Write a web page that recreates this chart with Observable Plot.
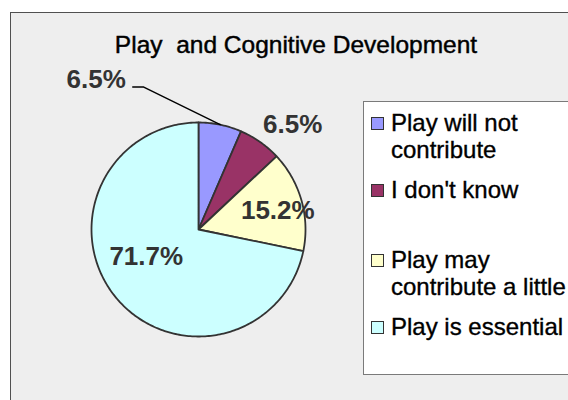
<!DOCTYPE html>
<html>
<head>
<meta charset="utf-8">
<script src="https://cdn.jsdelivr.net/npm/d3@7"></script>
<script src="https://cdn.jsdelivr.net/npm/@observablehq/plot@0.6"></script>
<style>
  html, body { margin: 0; padding: 0; background: #ffffff; }
  #wrap { position: relative; width: 568px; height: 400px; overflow: hidden; background: #ffffff;
          font-family: "Liberation Sans", Arial, Helvetica, sans-serif; }
  #panel { position: absolute; left: 10px; top: 12px; width: 620px; height: 420px;
           background: #eeeeee; border-left: 1.5px solid #505050; border-top: 1.5px solid #505050; }
  #title { position: absolute; left: 0; width: 592px; top: 33px; text-align: center;
           font-size: 24.5px; line-height: 24.5px; color: #000; white-space: pre;
           -webkit-text-stroke: 0.45px #000; }
  #legend { position: absolute; left: 363px; top: 101px; width: 240px; height: 272px;
            background: #ffffff; border: 1px solid #7a7a7a; }
  .sw { position: absolute; width: 13px; height: 13px; box-sizing: border-box; border: 1.5px solid #333; }
  .lt { position: absolute; font-size: 24px; line-height: 27px; color: #000; white-space: pre;
        -webkit-text-stroke: 0.35px #000; }
  #chart svg { position: absolute; left: 0; top: 0; overflow: visible; }
</style>
</head>
<body>
<div id="wrap">
  <div id="panel"></div>
  <div id="title"></div>
  <div id="legend"></div>
  <div id="legendItems"></div>
  <div id="chart"></div>
</div>
<script>
// ---- data ----
const title = "Play  and Cognitive Development";
const categories = ["Play will not contribute", "I don't know", "Play may contribute a little", "Play is essential"];
const legendLines = [["Play will not", "contribute"], ["I don't know"], ["Play may", "contribute a little"], ["Play is essential"]];
const values = [6.5, 6.5, 15.2, 71.7];
const labels = ["6.5%", "6.5%", "15.2%", "71.7%"];
const colors = ["#9999FF", "#993366", "#FFFFCC", "#CCFFFF"];

// ---- layout (not data) ----
// label placement: radius (in pie radii) along mid-angle plus small offsets in pie-radius units
const labelLayout = [
  {r: 1.43, du: -0.97, dv: 0.0, anchor: "end", leader: true},
  {r: 1.2, du: 0.19, dv: -0.005, anchor: "middle"},
  {r: 0.77, du: 0.0, dv: -0.03, anchor: "middle"},
  {r: 0.63, du: 0.0, dv: 0.14, anchor: "middle"}
];
const legendBaselines = [131, 198, 268, 335];

document.getElementById("title").textContent = title;

// legend (HTML)
const li = document.getElementById("legendItems");
categories.forEach((c, i) => {
  const sw = document.createElement("div");
  sw.className = "sw";
  sw.style.left = "371px";
  sw.style.top = (legendBaselines[i] - 14) + "px";
  sw.style.background = colors[i];
  li.appendChild(sw);
  const t = document.createElement("div");
  t.className = "lt";
  t.style.left = "391px";
  t.style.top = (legendBaselines[i] - 21.8) + "px";
  t.textContent = legendLines[i].join("\n");
  li.appendChild(t);
});

// ---- pie geometry via angles ----
const total = d3.sum(values);
const pie = [];
let acc = 0;
values.forEach((v, i) => {
  const a0 = acc / total * 2 * Math.PI;
  acc += v;
  const a1 = acc / total * 2 * Math.PI;
  pie.push({cat: categories[i], a0, a1, mid: (a0 + a1) / 2});
});
const pt = (a, r) => ({u: r * Math.sin(a), v: r * Math.cos(a)});

const slicePts = [];
pie.forEach(s => {
  const n = Math.max(2, Math.ceil((s.a1 - s.a0) / (2 * Math.PI) * 360));
  slicePts.push({cat: s.cat, u: 0, v: 0});
  for (let k = 0; k <= n; k++) {
    const p = pt(s.a0 + (s.a1 - s.a0) * k / n, 1);
    slicePts.push({cat: s.cat, ...p});
  }
  slicePts.push({cat: s.cat, u: 0, v: 0});
});

const labelData = pie.map((s, i) => {
  const L = labelLayout[i];
  const p = pt(s.mid, L.r);
  return {text: labels[i], u: p.u + L.du, v: p.v + L.dv, anchor: L.anchor};
});

const leaderPts = [];
pie.forEach((s, i) => {
  const L = labelLayout[i];
  if (!L.leader) return;
  const e = pt(s.mid, 1);
  const lab = labelData[i];
  leaderPts.push(e);
  leaderPts.push({u: lab.u + 0.168, v: lab.v - 0.069});
  leaderPts.push({u: lab.u + 0.065, v: lab.v - 0.069});
});

// pie centre at (198,229) px, radius 107 px
const R = 107, cx = 198, cy = 229, W = 568, H = 400;

const plot = Plot.plot({
  width: W, height: H,
  margin: 0,
  x: {domain: [-cx / R, (W - cx) / R], range: [0, W], axis: null},
  y: {domain: [(cy - H) / R, cy / R], range: [H, 0], axis: null},
  color: {domain: categories, range: colors},
  style: {background: "transparent", overflow: "visible"},
  marks: [
    Plot.line(slicePts, {x: "u", y: "v", z: "cat", fill: "cat", stroke: "#333333", strokeWidth: 1.8, strokeLinejoin: "round"}),
    Plot.line(leaderPts, {x: "u", y: "v", stroke: "#000000", strokeWidth: 1.4}),
    Plot.text(labelData.filter(d => d.anchor === "middle"), {x: "u", y: "v", text: "text", textAnchor: "middle",
      fontSize: 26, fontWeight: "bold", fill: "#333333", fontFamily: "Liberation Sans, Arial, sans-serif"}),
    Plot.text(labelData.filter(d => d.anchor === "end"), {x: "u", y: "v", text: "text", textAnchor: "end",
      fontSize: 26, fontWeight: "bold", fill: "#333333", fontFamily: "Liberation Sans, Arial, sans-serif"})
  ]
});
document.getElementById("chart").appendChild(plot);
</script>
</body>
</html>
